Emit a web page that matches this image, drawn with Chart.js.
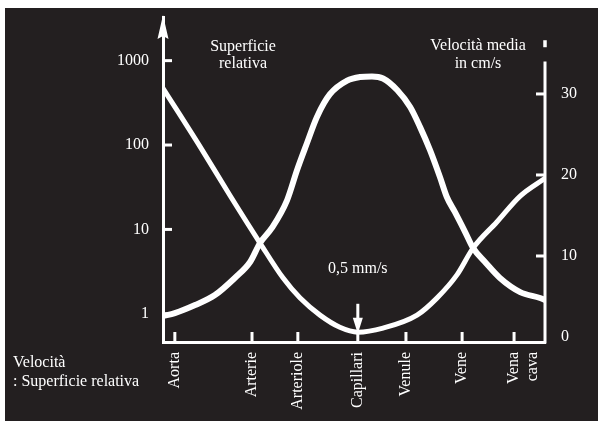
<!DOCTYPE html>
<html><head><meta charset="utf-8">
<script src="https://cdn.jsdelivr.net/npm/chart.js@4"></script>
<style>html,body{margin:0;padding:0;background:#fff;overflow:hidden}#wrap{width:598px;height:421px;position:relative}</style>
</head><body><div id="wrap"><canvas id="c" width="598" height="421"></canvas></div>
<script>
// ---- data ----
const categories = ['Aorta', 'Arterie', 'Arteriole', 'Capillari', 'Venule', 'Vene', ['Vena', 'cava']];
const categoryPositions = [3.1, 23.3, 35.3, 51.0, 63.6, 78.3, 91.9];

const surfaceX = [0, 3.1, 8.4, 13.6, 18.8, 22.8, 25.4, 28.5, 32.5, 35.1, 37.7, 40.3, 43.7, 48.2, 51.6, 54.7, 57.6, 61.3, 64.7, 67.3, 69.9, 72.5, 74.3, 76.4, 79.1, 81.2, 84.3, 88.2, 93.5, 98.7, 100];
const surfaceValues = [0.94, 1.02, 1.27, 1.67, 2.66, 4.11, 6.9, 10.4, 22.3, 50.6, 105.6, 215, 400, 580, 640, 650, 615, 449, 282, 163, 87, 41.8, 24.2, 16.1, 9.3, 6.0, 4.11, 2.66, 1.81, 1.54, 1.46];

const velocityX = [0, 9.7, 17.5, 25.4, 31.4, 35.9, 41.1, 46.3, 51.0, 57.6, 66.5, 71.7, 77.0, 81.2, 87.4, 93.5, 100];
const velocityValues = [30.7, 23.5, 17.5, 11.6, 7.3, 4.8, 2.7, 1.2, 0.6, 1.1, 2.7, 4.8, 7.7, 11.0, 14.2, 17.4, 19.6];

const surfaceTicks = [1, 10, 100, 1000];
const velocityTicks = [0, 10, 20, 30];
const capillaryVelocityLabel = '0,5 mm/s';

// ---- style ----
const BG = '#231f20';
const FG = '#ffffff';
const FONT = "'Liberation Serif', 'Times New Roman', serif";
const fontSpec = { family: FONT, size: 16 };

const zeroPad = s => { s.paddingTop = 0; s.paddingBottom = 0; s.paddingLeft = 0; s.paddingRight = 0; };

const decor = {
  id: 'decor',
  beforeDraw(chart) {
    const ctx = chart.ctx;
    ctx.save();
    ctx.fillStyle = '#ffffff';
    ctx.fillRect(0, 0, chart.width, chart.height);
    ctx.fillStyle = BG;
    ctx.fillRect(5, 8, chart.width - 5, chart.height - 8);
    ctx.restore();
  },
  afterDraw(chart) {
    const ctx = chart.ctx;
    const a = chart.chartArea;
    const sx = chart.scales.x, sl = chart.scales.yL, sr = chart.scales.yR;
    ctx.save();
    ctx.strokeStyle = FG; ctx.fillStyle = FG; ctx.lineWidth = 3; ctx.lineCap = 'butt';
    // left ticks (inward)
    surfaceTicks.forEach(v => {
      const y = sl.getPixelForValue(v);
      ctx.beginPath(); ctx.moveTo(a.left, y); ctx.lineTo(a.left + 9, y); ctx.stroke();
    });
    // right axis line + ticks
    const rTop = sr.getPixelForValue(34);
    ctx.beginPath(); ctx.moveTo(a.right, rTop); ctx.lineTo(a.right, a.bottom + 1.5); ctx.stroke();
    const dot = sr.getPixelForValue(36.2);
    ctx.beginPath(); ctx.moveTo(a.right, dot - 3.5); ctx.lineTo(a.right, dot + 3.5); ctx.lineWidth = 3.5; ctx.stroke();
    ctx.lineWidth = 3;
    velocityTicks.forEach(v => {
      if (v === 0) return;
      const y = sr.getPixelForValue(v);
      ctx.beginPath(); ctx.moveTo(a.right, y); ctx.lineTo(a.right - 9, y); ctx.stroke();
    });
    // x ticks (upward)
    categoryPositions.forEach(p => {
      const x = sx.getPixelForValue(p);
      ctx.beginPath(); ctx.moveTo(x, a.bottom); ctx.lineTo(x, a.bottom - 10); ctx.stroke();
    });
    // arrow head on left axis
    ctx.beginPath();
    ctx.moveTo(a.left, a.top - 2);
    ctx.lineTo(a.left - 5.5, a.top + 22);
    ctx.lineTo(a.left, a.top + 19);
    ctx.lineTo(a.left + 5.5, a.top + 22);
    ctx.closePath(); ctx.fill();

    // capillary arrow
    const cx = sx.getPixelForValue(categoryPositions[3]);
    const y1 = sr.getPixelForValue(4.1), y2 = sr.getPixelForValue(0.4);
    ctx.lineWidth = 3;
    ctx.beginPath(); ctx.moveTo(cx, y1); ctx.lineTo(cx, y2 - 12); ctx.stroke();
    ctx.beginPath(); ctx.moveTo(cx - 5, y2 - 16); ctx.lineTo(cx + 5, y2 - 16); ctx.lineTo(cx, y2); ctx.closePath(); ctx.fill();

    // texts
    ctx.font = '16px ' + FONT;
    ctx.textBaseline = 'middle';
    ctx.textAlign = 'center';
    ctx.fillText('Superficie', 243, 47);
    ctx.fillText('relativa', 243, 64);
    ctx.fillText('Velocità media', 478, 46);
    ctx.fillText('in cm/s', 478, 64);
    ctx.fillText(capillaryVelocityLabel, cx, 269);
    ctx.textAlign = 'left';
    ctx.fillText('Velocità', 13, 363);
    ctx.fillText(': Superficie relativa', 13, 382);
    ctx.restore();
  }
};

const toPoints = (xs, ys) => xs.map((x, i) => ({ x, y: ys[i] }));

new Chart(document.getElementById('c'), {
  type: 'line',
  data: {
    datasets: [
      {
        label: 'Superficie relativa',
        data: toPoints(surfaceX, surfaceValues),
        yAxisID: 'yL',
        borderColor: FG, borderWidth: 6, pointRadius: 0,
        cubicInterpolationMode: 'monotone', borderCapStyle: 'round', borderJoinStyle: 'round'
      },
      {
        label: 'Velocità media',
        data: toPoints(velocityX, velocityValues),
        yAxisID: 'yR',
        borderColor: FG, borderWidth: 5, pointRadius: 0,
        cubicInterpolationMode: 'monotone', borderCapStyle: 'round', borderJoinStyle: 'round'
      }
    ]
  },
  options: {
    responsive: false,
    animation: false,
    layout: { padding: { top: 17, left: 0, right: 0, bottom: 0 } },
    plugins: { legend: { display: false }, tooltip: { enabled: false } },
    scales: {
      x: {
        type: 'linear', position: 'bottom', min: 0, max: 100,
        afterBuildTicks: s => { s.ticks = categoryPositions.map(v => ({ value: v })); },
        afterFit: s => { s.height = 79; zeroPad(s); },
        ticks: {
          callback: (v, i) => categories[i],
          autoSkip: false, minRotation: 90, maxRotation: 90,
          color: FG, font: fontSpec, padding: 10
        },
        grid: { display: true, drawOnChartArea: false, drawTicks: false, color: 'rgba(0,0,0,0)' },
        border: { display: true, color: FG, width: 3 }
      },
      yL: {
        type: 'logarithmic', position: 'left',
        min: 0.4634, max: 3289,
        afterBuildTicks: s => { s.ticks = surfaceTicks.map(v => ({ value: v })); },
        afterFit: s => { s.width = 163; zeroPad(s); },
        ticks: { callback: v => String(v), color: FG, font: fontSpec, padding: 14 },
        grid: { display: true, drawOnChartArea: false, drawTicks: false, color: 'rgba(0,0,0,0)' },
        border: { display: true, color: FG, width: 3 }
      },
      yR: {
        type: 'linear', position: 'right',
        min: -0.617, max: 39.5,
        afterBuildTicks: s => { s.ticks = velocityTicks.map(v => ({ value: v })); },
        afterFit: s => { s.width = 53; zeroPad(s); },
        ticks: { color: FG, font: fontSpec, padding: 16 },
        grid: { display: false, drawOnChartArea: false, drawTicks: false },
        border: { display: false }
      }
    }
  },
  plugins: [decor]
});
</script>
</body></html>
